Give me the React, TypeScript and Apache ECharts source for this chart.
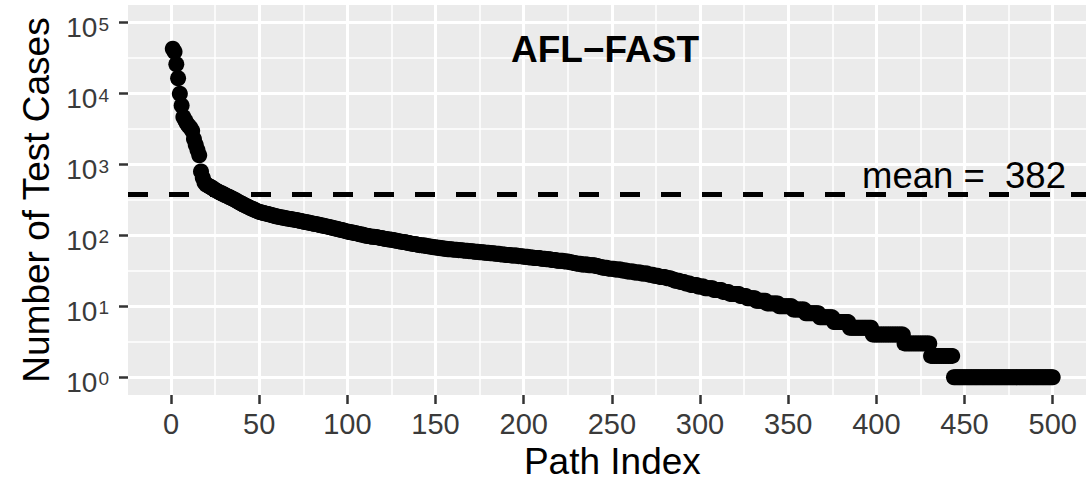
import React, { useEffect, useRef } from 'react';
import * as echarts from 'echarts';

// Number of test cases per path, sorted descending (path index 1..500)
const headCounts = [43000, 39000, 26000, 16500, 10000, 6800, 4700, 4200, 3800, 3500, 3300, 3000, 2300, 1900, 1600, 1350, 800, 650, 560, 520];

const bodyCounts = [
  505, 490, 475, 455, 440, 425, 412, 400, 390, 378,
  368, 358, 348, 339, 330, 320, 310, 300, 290, 282,
  273, 265, 258, 251, 244, 238, 232, 226, 220, 215,
  212, 209, 206, 203, 200, 197, 194, 191, 188, 185,
  183, 181, 179, 177, 175, 173, 171, 170, 168, 167,
  165, 163, 161, 159, 157, 155, 153, 152, 150, 148,
  146, 145, 143, 141, 139, 138, 136, 134, 133, 131,
  129, 127, 125, 124, 122, 120, 119, 117, 115, 114,
  112, 111, 110, 108, 107, 106, 104, 103, 102, 100,
  99, 98, 97, 96, 96, 95, 94, 93, 92, 91,
  90, 89, 88, 88, 87, 86, 85, 84, 83, 82,
  81, 81, 80, 79, 78, 77, 76, 76, 75, 74,
  73, 73, 72, 72, 71, 70, 70, 69, 68, 68,
  67, 67, 66, 66, 65, 65, 64, 64, 64, 63,
  63, 63, 62, 62, 62, 61, 61, 61, 60, 60,
  60, 59, 59, 59, 58, 58, 58, 57, 57, 57,
  56, 56, 56, 55, 55, 55, 54, 54, 54, 53,
  53, 53, 52, 52, 52, 52, 51, 51, 51, 50,
];

const tailCounts = [
  50, 50, 49, 49, 49, 48, 48, 48, 48, 47,
  47, 47, 46, 46, 46, 45, 45, 45, 44, 44,
  44, 44, 43, 43, 43, 42, 42, 41, 41, 40,
  40, 40, 39, 39, 39, 39, 38, 38, 38, 38,
  37, 37, 36, 36, 35, 35, 35, 34, 34, 34,
  34, 33, 33, 33, 33, 32, 32, 32, 31, 31,
  31, 31, 30, 30, 30, 30, 29, 29, 29, 29,
  28, 28, 28, 27, 27, 27, 26, 26, 26, 26,
  25, 25, 25, 24, 24, 23, 23, 23, 22, 22,
  22, 21, 21, 21, 20, 20, 20, 20, 19, 19,
  19, 19, 18, 18, 18, 18, 18, 17, 17, 17,
  17, 17, 16, 16, 16, 16, 15, 15, 15, 15,
  15, 15, 14, 14, 14, 14, 13, 13, 13, 13,
  13, 12, 12, 12, 12, 12, 12, 11, 11, 11,
  11, 11, 11, 11, 10, 10, 10, 10, 10, 10,
  10, 10, 9, 9, 9, 9, 9, 9, 9, 8,
  8, 8, 8, 8, 8, 8, 8, 7, 7, 7,
  7, 7, 7, 7, 7, 6, 6, 6, 6, 6,
  6, 6, 6, 6, 5, 5, 5, 5, 5, 5,
  5, 5, 5, 5, 5, 5, 5, 4, 4, 4,
  4, 4, 4, 4, 4, 4, 4, 4, 4, 4,
  4, 4, 4, 4, 4, 3, 3, 3, 3, 3,
  3, 3, 3, 3, 3, 3, 3, 3, 3, 3,
  2, 2, 2, 2, 2, 2, 2, 2, 2, 2,
  2, 2, 2, 1, 1, 1, 1, 1, 1, 1,
  1, 1, 1, 1, 1, 1, 1, 1, 1, 1,
  1, 1, 1, 1, 1, 1, 1, 1, 1, 1,
  1, 1, 1, 1, 1, 1, 1, 1, 1, 1,
  1, 1, 1, 1, 1, 1, 1, 1, 1, 1,
  1, 1, 1, 1, 1, 1, 1, 1, 1, 1,
];

const meanValue = 382;
const xTicks = [0, 50, 100, 150, 200, 250, 300, 350, 400, 450, 500];
const xMinorTicks = [25, 75, 125, 175, 225, 275, 325, 375, 425, 475];
const yExponents = [0, 1, 2, 3, 4, 5];
const yMinorExponents = [0.5, 1.5, 2.5, 3.5, 4.5];
const titleText = 'AFL\u2212FAST';
const xAxisTitle = 'Path Index';
const yAxisTitle = 'Number of Test Cases';

export default function App() {
  const ref = useRef<HTMLDivElement>(null);

  useEffect(() => {
    document.body.style.margin = '0';
    const el = ref.current;
    if (!el) return;
    const chart = echarts.init(el, null, { renderer: 'svg' });

    const counts = [...headCounts, ...bodyCounts, ...tailCounts];
    const points = counts.map((v, k) => [k + 1, v]);
    const yMajor = yExponents.map((e) => Math.pow(10, e));
    const yMinor = yMinorExponents.map((e) => Math.pow(10, e));
    const yMin = Math.pow(10, -0.25);
    const yMax = Math.pow(10, 5.25);
    const xMin = -24.4;
    const xMax = 524.95;
    const font = '"Liberation Sans", Arial, Helvetica, sans-serif';
    const tickColor = '#3A3A3A';

    chart.setOption({
      animation: false,
      backgroundColor: '#FFFFFF',
      textStyle: { fontFamily: font },
      grid: {
        left: 128,
        top: 5,
        right: -10.7,
        bottom: 87,
        show: true,
        backgroundColor: '#EBEBEB',
        borderWidth: 0,
        containLabel: false,
        outerBoundsMode: 'none',
      },
      xAxis: [
        {
          type: 'value',
          min: xMin,
          max: xMax,
          position: 'bottom',
          z: 2,
          axisLine: { show: false, onZero: false },
          axisTick: {
            show: true,
            customValues: xTicks,
            length: 9,
            lineStyle: { color: '#333333', width: 2.5 },
          },
          axisLabel: {
            customValues: xTicks,
            fontSize: 29,
            color: tickColor,
            fontFamily: font,
            margin: 14,
          },
          splitLine: { show: true, lineStyle: { color: '#FFFFFF', width: 3 } },
          name: xAxisTitle,
          nameLocation: 'middle',
          nameGap: 46,
          nameTextStyle: { fontSize: 37, color: '#000000', fontFamily: font },
        },
        {
          type: 'value',
          min: xMin,
          max: xMax,
          position: 'bottom',
          z: 1,
          axisLine: { show: false, onZero: false },
          axisTick: { show: false, customValues: xMinorTicks },
          axisLabel: { show: false, customValues: xMinorTicks },
          splitLine: { show: true, lineStyle: { color: '#FFFFFF', width: 1.5 } },
        },
      ],
      yAxis: [
        {
          type: 'log',
          logBase: 10,
          min: yMin,
          max: yMax,
          position: 'left',
          z: 2,
          axisLine: { show: false, onZero: false },
          axisTick: {
            show: true,
            customValues: yMajor,
            length: 9,
            lineStyle: { color: '#333333', width: 2.5 },
          },
          axisLabel: {
            customValues: yMajor,
            margin: 19,
            formatter: (v: number) => `{b|10}{s|${Math.round(Math.log10(v))}}`,
            rich: {
              b: { fontSize: 28, color: tickColor, fontFamily: font, lineHeight: 30, padding: [10, 0, 0, 0] },
              s: { fontSize: 19, color: tickColor, fontFamily: font, lineHeight: 19, verticalAlign: 'top', padding: [7, 0, 0, 1] },
            },
          },
          splitLine: { show: true, lineStyle: { color: '#FFFFFF', width: 3 } },
          name: yAxisTitle,
          nameLocation: 'middle',
          nameRotate: 90,
          nameGap: 68,
          nameTextStyle: { fontSize: 37, color: '#000000', fontFamily: font },
        },
        {
          type: 'log',
          logBase: 10,
          min: yMin,
          max: yMax,
          position: 'left',
          z: 1,
          axisLine: { show: false, onZero: false },
          axisTick: { show: false, customValues: yMinor },
          axisLabel: { show: false, customValues: yMinor },
          splitLine: { show: true, lineStyle: { color: '#FFFFFF', width: 1.5 } },
        },
      ],
      series: [
        {
          type: 'scatter',
          xAxisIndex: 0,
          yAxisIndex: 0,
          data: points,
          symbol: 'circle',
          symbolSize: 16,
          itemStyle: { color: '#000000', opacity: 1 },
          z: 3,
          markLine: {
            silent: true,
            symbol: 'none',
            label: { show: false },
            lineStyle: { type: [20, 21], color: '#000000', width: 5 },
            data: [{ yAxis: meanValue }],
            z: 4,
          },
        },
      ],
      graphic: [
        {
          type: 'text',
          x: 605,
          y: 49,
          z: 10,
          style: {
            text: titleText,
            font: `bold 37px ${font}`,
            fill: '#000000',
            align: 'center',
            verticalAlign: 'middle',
          },
        },
        {
          type: 'text',
          x: 964,
          y: 175,
          z: 10,
          style: {
            text: `mean =  ${meanValue}`,
            font: `36.5px ${font}`,
            fill: '#000000',
            align: 'center',
            verticalAlign: 'middle',
          },
        },
      ],
    });

    return () => {
      chart.dispose();
    };
  }, []);

  return <div ref={ref} style={{ width: 1086, height: 482 }} />;
}
